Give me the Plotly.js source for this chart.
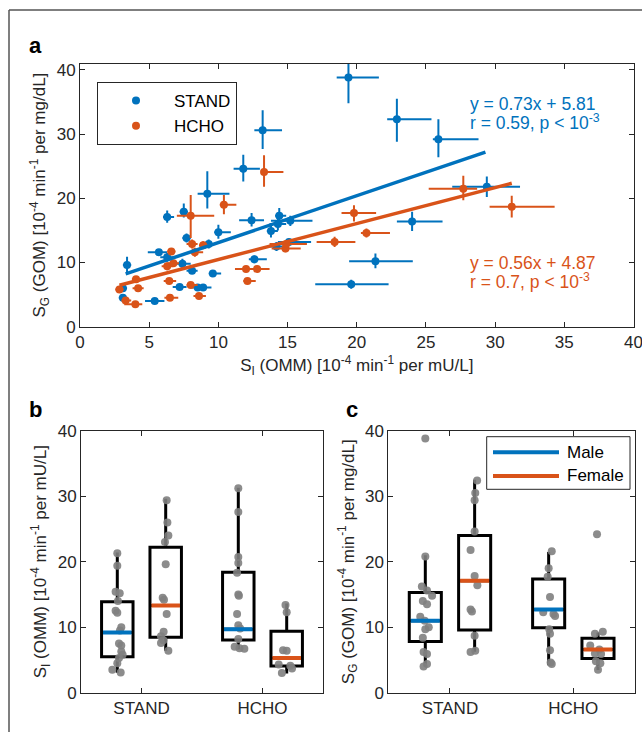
<!DOCTYPE html>
<html><head><meta charset="utf-8">
<script src="https://cdn.plot.ly/plotly-3.0.1.min.js"></script>
<style>html,body{margin:0;padding:0;background:#fff}#chart{width:642px;height:732px}</style>
</head><body><div id="chart"></div>
<script>
// ---------- Panel a data ----------
const standX  = [3.4,3.1,3.1,5.4,5.7,6.3,6.3,7.5,7.7,7.4,7.2,8.1,8.5,8.9,9.2,9.3,9.6,10.0,11.8,12.4,12.6,13.2,13.8,14.3,14.4,15.2,15.1,14.2,19.4,22.9,25.9,29.4,24.0,21.35,19.6];
const standY  = [9.6,6.0,4.5,4.0,11.6,10.8,17.1,17.9,13.8,9.8,6.2,8.7,6.1,6.1,20.7,12.9,8.3,14.7,24.6,16.6,10.5,30.6,14.9,16.0,17.3,16.5,13.2,12.5,38.8,32.3,29.2,21.8,16.4,10.2,6.6];
const standXm = [0.3,0.3,0.3,0.7,0.8,0.5,0.3,0.3,0.3,0.6,0.5,0.4,0.5,0.6,0.7,0.4,0.3,0.3,0.7,0.9,0.4,0.6,0.3,0.6,0.3,1.4,0.8,0.5,0.85,0.7,0.4,2.5,1.1,1.9,2.6];
const standXp = [0.3,0.3,0.3,0.7,0.6,0.5,0.5,0.3,0.3,0.6,0.5,0.4,0.5,0.6,1.6,0.4,0.6,0.9,1.2,0.9,0.9,1.4,0.5,0.6,0.5,1.6,1.6,0.5,2.2,2.5,2.9,2.4,2.2,2.7,2.7];
const standYm = [1.3,0.5,0.4,0.4,0.5,0.7,0.9,0.9,0.7,0.8,0.4,0.5,0.4,0.4,2.3,0.7,0.4,1.0,2.0,1.0,0.6,2.9,1.0,1.0,1.2,0.8,0.5,0.7,4.0,3.5,2.8,1.6,1.5,1.1,0.7];
const standYp = [1.3,0.5,0.4,0.4,0.5,0.7,1.0,1.3,0.7,0.8,0.4,0.5,0.4,0.4,3.5,0.7,0.4,1.2,2.2,1.1,0.6,3.1,1.0,1.0,1.2,0.8,0.5,0.7,4.0,3.2,3.1,1.6,1.5,1.2,0.7];

const hchoX  = [2.85,4.05,4.2,3.3,4.0,6.3,6.6,6.75,6.45,6.5,8.0,8.1,8.3,8.9,8.0,8.6,10.4,12.0,12.8,12.1,13.3,14.85,14.9,18.4,19.8,20.7,27.7,31.2];
const hchoY  = [5.8,7.4,6.0,4.1,3.5,9.4,11.7,9.9,7.1,4.5,17.3,12.9,11.6,12.7,6.5,4.8,19.0,9.0,9.0,7.1,24.1,12.2,12.9,13.2,17.7,14.6,21.5,18.7];
const hchoXm = [0.3,0.3,0.4,0.3,0.8,0.4,0.3,0.4,0.4,0.4,1.0,0.4,0.4,0.3,0.3,0.4,0.3,0.8,0.3,0.3,0.2,1.0,1.2,1.3,0.9,0.4,2.5,1.6];
const hchoXp = [0.3,0.3,0.4,0.4,0.5,0.4,0.3,0.4,0.5,0.6,1.7,0.4,0.6,0.6,0.5,0.5,0.9,0.7,0.9,0.6,1.4,1.1,1.5,1.5,1.6,1.7,1.0,3.1];
const hchoYm = [0.4,0.5,0.5,0.4,0.4,0.6,0.5,0.5,0.4,0.4,3.5,0.7,0.7,0.6,0.4,0.4,1.5,0.5,0.5,0.4,2.3,0.6,0.6,0.8,1.3,0.7,1.8,1.7];
const hchoYp = [0.4,0.5,0.5,0.4,0.4,0.6,0.5,0.5,0.4,0.4,3.2,0.7,0.7,0.6,0.4,0.4,1.5,0.5,0.5,0.4,2.6,0.6,0.6,0.8,1.2,0.7,2.0,1.7];

// regression fits (slope, intercept, x-extent)
const fitSlope = [0.73, 0.56];
const fitIntercept = [5.81, 4.87];
const fitXStand = [3.3, 29.3];
const fitXHcho = [2.85, 31.2];
const fitText = ["y = 0.73x + 5.81", "r = 0.59, p &lt; 10<sup>-3</sup>", "y = 0.56x + 4.87", "r = 0.7, p &lt; 10<sup>-3</sup>"];

// ---------- Panels b, c data ----------
const catLabels = ["STAND", "HCHO"];
const catVals = [1, 2];
const groupPos = [0.8, 1.2, 1.8, 2.2];          // STAND male, STAND female, HCHO male, HCHO female
const groupSex = ["Male", "Female", "Male", "Female"];
const sexLabels = ["Male", "Female"];

const bQ1 = [5.5, 8.45, 8.05, 4.07];
const bMed = [9.2, 13.3, 9.7, 5.3];
const bQ3 = [13.9, 22.2, 18.4, 9.4];
const bLo = [3.05, 6.4, 6.6, 2.95];
const bHi = [21.4, 29.6, 31.3, 13.6];

const cQ1 = [7.8, 9.57, 9.9, 5.24];
const cMed = [11.0, 17.1, 12.7, 6.6];
const cQ3 = [15.3, 24.0, 17.35, 8.3];
const cLo = [4.0, 6.26, 4.2, 3.46];
const cHi = [21.0, 32.5, 21.5, 9.2];

const bDots = [
  [21.3,19.4,15.4,15.2,14.0,12.5,12.2,10.0,9.5,7.5,7.2,6.3,5.8,5.3,4.5,3.5,3.1],
  [29.4,26.0,24.0,23.0,19.6,14.5,14.2,12.0,9.3,8.6,8.0,7.6,6.4],
  [31.2,27.6,20.7,19.8,18.3,15.0,14.8,12.0,10.3,9.8,8.2,7.0,6.8,6.7],
  [13.4,12.3,6.5,6.4,4.3,4.1,3.7,3.0]
];
const bJit = [
  [0,0,-0.014,0.02,0.005,-0.014,0,0.033,0.022,0.014,0.033,0.033,0.044,0.014,0,-0.041,0.028],
  [0.008,0.014,0.022,-0.006,0,-0.025,-0.014,0.008,-0.017,-0.039,-0.019,-0.039,0.022],
  [0,0,0,0,-0.01,0,0.005,-0.01,0,0.015,0,-0.03,0.01,0.05],
  [-0.01,0,-0.03,0,-0.066,0.03,0.044,-0.04]
];
const cDots = [
  [38.8,20.8,16.2,15.6,14.8,14.0,13.5,11.6,11.0,10.0,9.7,8.4,6.2,5.9,4.4,4.0],
  [32.4,30.5,29.4,24.6,21.8,17.8,16.4,12.7,12.4,8.7,6.4,6.2],
  [21.6,19.0,17.7,14.6,12.3,12.0,11.7,9.7,9.0,6.5,4.6,4.4],
  [24.2,9.3,9.0,7.2,6.6,6.0,5.9,4.8,4.5,3.5]
];
const cJit = [
  [0,0,-0.028,0.014,0.055,-0.02,0.014,-0.041,-0.005,0.028,0,-0.02,-0.014,0.014,0.014,-0.014],
  [0.02,0.005,0,0,-0.033,0,0.022,-0.033,-0.022,0,0.005,-0.033],
  [0.025,0,-0.008,0.011,-0.044,0.039,0.052,0.005,0.011,0.011,0.016,0.025],
  [-0.008,0.039,-0.025,-0.063,0.011,-0.025,0.025,-0.017,0.019,0]
];

// ---------- styling ----------
const BLUE = "#0072BD", ORANGE = "#D95319", AX = "#262626", GRAY = "#808080";
const FONT = "Liberation Sans, Arial, sans-serif";
const W = 642, H = 732;
const px = v => v / W, py = v => 1 - v / H;
const sexColor = s => s === "Male" ? BLUE : ORANGE;
const boxW = 0.26;

const traces = [];
function errScatter(name, x, y, xm, xp, ym, yp, color) {
  return {
    type: "scatter", mode: "markers", name, x, y, xaxis: "x", yaxis: "y", legend: "legend",
    marker: {color, size: 8},
    error_x: {type: "data", symmetric: false, array: xp, arrayminus: xm, color, thickness: 2, width: 0},
    error_y: {type: "data", symmetric: false, array: yp, arrayminus: ym, color, thickness: 2, width: 0}
  };
}
traces.push(errScatter("STAND", standX, standY, standXm, standXp, standYm, standYp, BLUE));
traces.push(errScatter("HCHO", hchoX, hchoY, hchoXm, hchoXp, hchoYm, hchoYp, ORANGE));
[fitXStand, fitXHcho].forEach((fx, i) => {
  traces.push({
    type: "scatter", mode: "lines", x: fx, y: fx.map(v => fitSlope[i] * v + fitIntercept[i]),
    xaxis: "x", yaxis: "y", showlegend: false, hoverinfo: "skip",
    line: {color: i === 0 ? BLUE : ORANGE, width: 3.5}
  });
});

function addBoxPanel(xa, ya, q1, med, q3, lo, hi, dots, jit) {
  for (let g = 0; g < 4; g++) {
    traces.push({
      type: "box", x: [groupPos[g]], q1: [q1[g]], median: [med[g]], q3: [q3[g]],
      lowerfence: [lo[g]], upperfence: [hi[g]], xaxis: xa, yaxis: ya,
      width: boxW, whiskerwidth: 0, boxpoints: false, showlegend: false,
      line: {color: "black", width: 3}, fillcolor: "rgba(0,0,0,0)", hoverinfo: "skip"
    });
  }
  for (let g = 0; g < 4; g++) {
    traces.push({
      type: "scatter", mode: "markers", xaxis: xa, yaxis: ya, showlegend: false,
      x: dots[g].map((v, i) => groupPos[g] + jit[g][i]), y: dots[g],
      marker: {color: GRAY, size: 8, opacity: 0.9}, hoverinfo: "y"
    });
  }
  for (let g = 0; g < 4; g++) {
    traces.push({
      type: "scatter", mode: "lines", xaxis: xa, yaxis: ya,
      x: [groupPos[g] - boxW / 2 + 0.012, groupPos[g] + boxW / 2 - 0.012], y: [med[g], med[g]],
      line: {color: sexColor(groupSex[g]), width: 4},
      name: groupSex[g], showlegend: false, hoverinfo: "skip"
    });
  }
}
addBoxPanel("x2", "y2", bQ1, bMed, bQ3, bLo, bHi, bDots, bJit);
addBoxPanel("x3", "y3", cQ1, cMed, cQ3, cLo, cHi, cDots, cJit);

const axBase = {
  showline: true, linecolor: AX, linewidth: 1, mirror: "ticks", ticks: "inside", ticklen: 5,
  tickcolor: AX, tickwidth: 1, showgrid: false, zeroline: false, ticklabeloverflow: "allow",
  tickfont: {family: FONT, size: 17, color: AX}, fixedrange: true
};
const titleFont = {family: FONT, size: 17, color: AX};
const sgTitle = "S<sub>G</sub> (GOM) [10<sup>-4</sup> min<sup>-1</sup> per mg/dL]";
const siTitle = "S<sub>I</sub> (OMM) [10<sup>-4</sup> min<sup>-1</sup> per mU/L]";

// legend for the sex-coloured medians in panel c (box, line samples, labels)
const lg = {x0: 486.7, x1: 630, y0: 436.7, y1: 489.3, lineX0: 493, lineX1: 559, textX: 565, rows: [452.3, 476]};
const legendShapes = [
  {type: "rect", xref: "paper", yref: "paper", x0: px(lg.x0), x1: px(lg.x1), y0: py(lg.y1), y1: py(lg.y0),
   line: {color: AX, width: 1}, fillcolor: "white", layer: "above"}
];
const legendTexts = [];
sexLabels.forEach((s, i) => {
  legendShapes.push({type: "line", xref: "paper", yref: "paper", x0: px(lg.lineX0), x1: px(lg.lineX1),
    y0: py(lg.rows[i]), y1: py(lg.rows[i]), line: {color: sexColor(s), width: 4}, layer: "above"});
  legendTexts.push({text: s, x: px(lg.textX), y: py(lg.rows[i]), xref: "paper", yref: "paper",
    xanchor: "left", yanchor: "middle", showarrow: false, font: {family: FONT, size: 17, color: "black"}});
});

const layout = {
  width: W, height: H, margin: {l: 0, r: 0, t: 0, b: 0},
  paper_bgcolor: "white", plot_bgcolor: "white",
  font: {family: FONT, size: 17, color: AX},
  showlegend: true,
  xaxis: Object.assign({}, axBase, {domain: [px(80), px(633.5)], range: [0, 40], tickvals: [0,5,10,15,20,25,30,35,40], anchor: "y",
    title: {text: siTitle, font: titleFont, standoff: 8}}),
  yaxis: Object.assign({}, axBase, {domain: [py(326.7), py(63.5)], range: [0, 41], tickvals: [0,10,20,30,40], anchor: "x",
    title: {text: sgTitle, font: titleFont, standoff: 6}}),
  xaxis2: Object.assign({}, axBase, {domain: [px(81), px(323)], range: [0.5, 2.5], tickvals: catVals, ticktext: catLabels, anchor: "y2"}),
  yaxis2: Object.assign({}, axBase, {domain: [py(692.7), py(430.7)], range: [0, 40], tickvals: [0,10,20,30,40], anchor: "x2",
    title: {text: siTitle, font: titleFont, standoff: 6}}),
  xaxis3: Object.assign({}, axBase, {domain: [px(388.3), px(635)], range: [0.5, 2.5], tickvals: catVals, ticktext: catLabels, anchor: "y3"}),
  yaxis3: Object.assign({}, axBase, {domain: [py(692.7), py(430.7)], range: [0, 40], tickvals: [0,10,20,30,40], anchor: "x3",
    title: {text: sgTitle, font: titleFont, standoff: 6}}),
  legend: {x: px(97), y: py(82), xanchor: "left", yanchor: "top", bgcolor: "white",
    bordercolor: AX, borderwidth: 1, font: {family: FONT, size: 17, color: "black"}, itemwidth: 66, tracegroupgap: 0},
  annotations: [
    {text: "<b>a</b>", x: px(27), y: py(46), xref: "paper", yref: "paper", xanchor: "left", yanchor: "middle", showarrow: false, font: {family: FONT, size: 22, color: "black"}},
    {text: "<b>b</b>", x: px(27), y: py(409), xref: "paper", yref: "paper", xanchor: "left", yanchor: "middle", showarrow: false, font: {family: FONT, size: 22, color: "black"}},
    {text: "<b>c</b>", x: px(344), y: py(410), xref: "paper", yref: "paper", xanchor: "left", yanchor: "middle", showarrow: false, font: {family: FONT, size: 22, color: "black"}},
    {text: fitText[0], x: px(468), y: py(104), xref: "paper", yref: "paper", xanchor: "left", yanchor: "middle", showarrow: false, font: {family: FONT, size: 17.5, color: BLUE}},
    {text: fitText[1], x: px(468), y: py(122), xref: "paper", yref: "paper", xanchor: "left", yanchor: "middle", showarrow: false, font: {family: FONT, size: 17.5, color: BLUE}},
    {text: fitText[2], x: px(468), y: py(263), xref: "paper", yref: "paper", xanchor: "left", yanchor: "middle", showarrow: false, font: {family: FONT, size: 17.5, color: ORANGE}},
    {text: fitText[3], x: px(468), y: py(281), xref: "paper", yref: "paper", xanchor: "left", yanchor: "middle", showarrow: false, font: {family: FONT, size: 17.5, color: ORANGE}}
  ].concat(legendTexts),
  shapes: [
    {type: "line", xref: "paper", yref: "paper", x0: px(9), x1: 1, y0: py(10), y1: py(10), line: {color: "#555", width: 1.5}},
    {type: "line", xref: "paper", yref: "paper", x0: px(9), x1: px(9), y0: 0, y1: py(10), line: {color: "#555", width: 1.5}}
  ].concat(legendShapes)
};

Plotly.newPlot("chart", traces, layout, {displayModeBar: false, staticPlot: true});
</script></body></html>
